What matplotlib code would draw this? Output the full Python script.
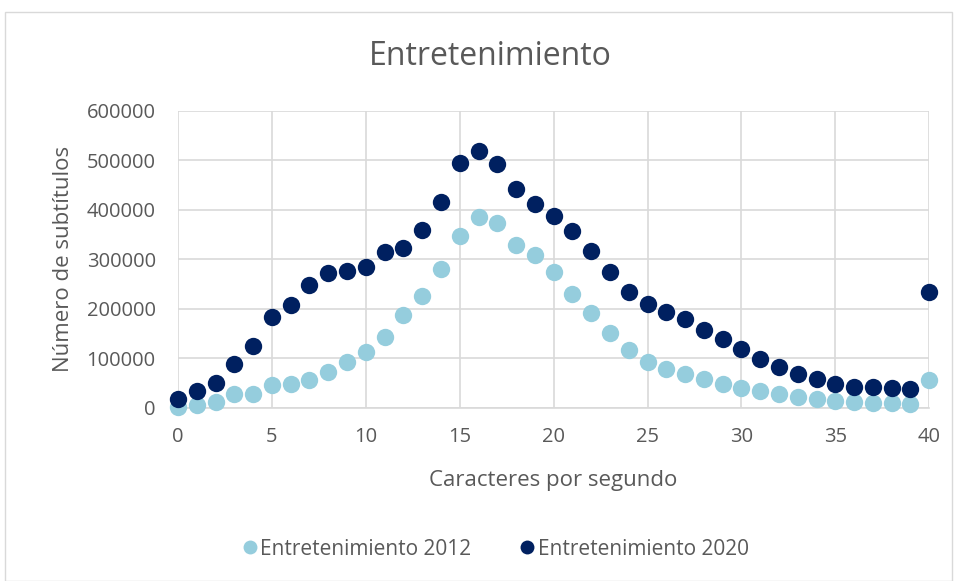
import matplotlib.pyplot as plt
import matplotlib.patches as mpatches
import numpy as np

# Caracteres por segundo (0..40)
cps = list(range(41))

subs_2012 = [
    2000, 5000, 11500, 29000, 28300, 46500, 48500, 56600, 72800, 92400,
    112700, 143600, 187500, 226600, 281200, 348000, 385000, 374000, 330000, 309000,
    273700, 231000, 190800, 151000, 116000, 93000, 79000, 68800, 59300, 49200,
    40500, 33800, 28300, 22300, 17600, 14200, 11500, 10100, 9500, 7500,
    56600,
]

subs_2020 = [
    17600, 35000, 50600, 89600, 126000, 182700, 207700, 247400, 272500, 277000,
    285000, 315500, 323600, 360000, 417000, 495000, 520000, 493000, 442000, 412000,
    388000, 357000, 317600, 274500, 234000, 209000, 193000, 179500, 158000, 140000,
    118000, 99000, 82000, 68800, 58000, 48500, 42500, 42500, 41000, 37800,
    234000,
]

x_ticks = [0, 5, 10, 15, 20, 25, 30, 35, 40]
y_ticks = [0, 100000, 200000, 300000, 400000, 500000, 600000]

COLOR_2012 = "#95CDDD"
COLOR_2020 = "#002060"
TEXT = "#595959"
GRID = "#D9D9D9"

plt.rcParams["font.family"] = ["Open Sans", "DejaVu Sans"]

fig = plt.figure(figsize=(9.57, 5.81), dpi=100)
ax = fig.add_axes([0.186, 0.298, 0.785, 0.511])

# marco exterior del gráfico
fig.patches.append(mpatches.Rectangle(
    (5 / 957, 0), 1 - 10 / 957, 1 - 12 / 581,
    transform=fig.transFigure, fill=False, edgecolor=GRID, lw=1.0
))

ax.plot(cps, subs_2012, "o", color=COLOR_2012, ms=12.5, mew=0,
        label="Entretenimiento 2012", zorder=3, clip_on=False)
ax.plot(cps, subs_2020, "o", color=COLOR_2020, ms=12.5, mew=0,
        label="Entretenimiento 2020", zorder=4, clip_on=False)

ax.set_xlim(0, 40)
ax.set_ylim(0, 600000)
ax.set_xticks(x_ticks)
ax.set_yticks(y_ticks)
ax.set_yticklabels([str(v) for v in y_ticks])

ax.grid(True, color=GRID, lw=1.2)
ax.set_axisbelow(True)
for side in ["top", "right", "left"]:
    ax.spines[side].set_visible(False)
ax.spines["bottom"].set_color(GRID)
ax.spines["bottom"].set_linewidth(1.2)

ax.tick_params(length=0, labelsize=14.5, colors=TEXT)
ax.tick_params(axis="x", pad=14)
ax.tick_params(axis="y", pad=16)

ax.set_xlabel("Caracteres por segundo", fontsize=16, color=TEXT, labelpad=16)
ax.set_ylabel("Número de subtítulos", fontsize=16, color=TEXT, labelpad=9)

fig.text(0.512, 0.902, "Entretenimiento", ha="center", va="center",
         fontsize=23, color=TEXT)

fig.legend(loc="center", bbox_to_anchor=(0.513, 0.055), ncol=2, frameon=False,
           fontsize=15, labelcolor=TEXT, handletextpad=-0.3, columnspacing=1.9,
           markerscale=0.8, handlelength=1.6)

fig.savefig("out.png", dpi=100)
